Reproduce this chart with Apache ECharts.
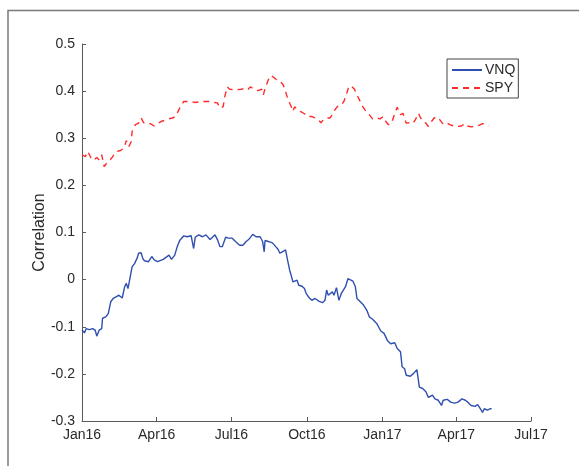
<!DOCTYPE html>
<html>
<head>
<meta charset="utf-8">
<script src="https://cdn.jsdelivr.net/npm/echarts@6/dist/echarts.min.js"></script>
<style>
html,body{margin:0;padding:0;background:#fff;}
#chart{width:579px;height:466px;}
</style>
</head>
<body>
<div id="chart"></div>
<script>
// Days since 2016-01-01 and correlation values
const vnqDays = [
  0,3,5,9,13,16,18,21,24,25,
  29,32,35,38,42,45,49,52,54,56,
  58,61,64,67,69,72,74,76,81,85,
  88,92,99,106,109,113,116,119,124,128,
  133,136,138,142,147,151,156,159,162,165,
  168,171,175,178,183,187,192,196,200,203,
  208,212,217,220,222,223,227,229,232,236,
  239,241,244,246,248,250,253,255,257,262,
  264,268,271,273,277,280,284,289,293,296,
  298,300,305,307,310,313,316,321,324,330,
  333,335,339,343,347,350,354,359,364,368,
  372,376,381,384,388,390,393,395,400,404,
  408,411,415,419,422,427,430,434,438,440,
  445,449,454,458,463,467,470,474,479,482,
  486,488,490,494,497,499
];
const vnqValues = [
  -0.107,-0.113,-0.104,-0.106,-0.104,-0.107,-0.120,-0.107,-0.104,-0.082,
  -0.079,-0.072,-0.047,-0.040,-0.036,-0.033,-0.039,-0.015,-0.008,-0.019,
  -0.001,0.027,0.034,0.045,0.056,0.057,0.045,0.040,0.038,0.049,
  0.042,0.038,0.043,0.052,0.043,0.052,0.070,0.083,0.093,0.091,
  0.093,0.066,0.090,0.095,0.091,0.095,0.085,0.090,0.095,0.085,
  0.070,0.070,0.090,0.088,0.088,0.081,0.073,0.073,0.081,0.085,
  0.096,0.091,0.091,0.081,0.059,0.083,0.081,0.085,0.078,0.070,
  0.064,0.056,0.059,0.056,0.063,0.045,0.020,0.008,-0.005,-0.001,
  -0.012,-0.014,-0.019,-0.029,-0.039,-0.044,-0.040,-0.046,-0.049,-0.044,
  -0.022,-0.033,-0.026,-0.033,-0.017,-0.044,-0.029,-0.015,0.002,-0.003,
  -0.015,-0.040,-0.047,-0.054,-0.065,-0.079,-0.084,-0.093,-0.109,-0.114,
  -0.129,-0.136,-0.134,-0.146,-0.153,-0.185,-0.189,-0.203,-0.205,-0.199,
  -0.191,-0.228,-0.231,-0.238,-0.250,-0.245,-0.253,-0.256,-0.267,-0.256,
  -0.254,-0.260,-0.262,-0.260,-0.253,-0.256,-0.260,-0.267,-0.269,-0.265,
  -0.276,-0.282,-0.274,-0.277,-0.274,-0.274
];
const spyDays = [
  0,4,7,11,14,18,21,24,27,30,
  33,37,40,43,47,51,54,57,60,61,
  65,69,72,75,79,83,88,92,97,101,
  106,110,114,117,120,124,128,133,137,142,
  146,151,156,160,165,168,172,174,177,180,
  185,189,194,198,202,205,210,214,219,221,
  223,227,230,233,237,241,245,248,251,255,
  257,259,262,266,271,275,280,284,288,291,
  294,298,302,305,308,311,316,319,322,325,
  328,332,335,339,342,346,350,354,359,363,
  367,370,373,377,379,382,384,386,388,391,
  393,395,399,403,406,410,412,415,419,422,
  426,429,433,436,439,442,445,448,453,457,
  462,467,470,474,479,483,488,492,495
];
const spyValues = [
  0.265,0.261,0.272,0.258,0.253,0.259,0.254,0.265,0.240,0.247,
  0.251,0.260,0.268,0.272,0.274,0.279,0.295,0.282,0.293,0.314,
  0.329,0.332,0.343,0.333,0.333,0.331,0.326,0.331,0.336,0.338,
  0.341,0.343,0.346,0.357,0.367,0.378,0.378,0.378,0.376,0.377,
  0.378,0.378,0.378,0.376,0.375,0.364,0.367,0.389,0.409,0.404,
  0.403,0.403,0.404,0.406,0.403,0.409,0.404,0.401,0.404,0.392,
  0.406,0.424,0.433,0.430,0.424,0.421,0.414,0.399,0.382,0.367,
  0.357,0.367,0.362,0.357,0.352,0.346,0.346,0.343,0.339,0.333,
  0.339,0.343,0.343,0.350,0.360,0.367,0.371,0.378,0.392,0.410,
  0.411,0.404,0.392,0.378,0.367,0.357,0.350,0.341,0.343,0.341,
  0.346,0.336,0.329,0.332,0.336,0.357,0.366,0.357,0.350,0.353,
  0.350,0.332,0.333,0.331,0.339,0.353,0.345,0.336,0.332,0.325,
  0.336,0.343,0.345,0.339,0.332,0.329,0.332,0.329,0.326,0.325,
  0.326,0.331,0.326,0.324,0.326,0.327,0.331,0.330,0.326
];
const xTickDates = ['2016-01-01','2016-04-01','2016-07-01','2016-10-01','2017-01-01','2017-04-01','2017-07-01'];
const xTickLabels = ['Jan16','Apr16','Jul16','Oct16','Jan17','Apr17','Jul17'];
const seriesNames = ['VNQ','SPY'];

const DAY = 86400000;
function ts(s){ const p = s.split('-').map(Number); return Date.UTC(p[0], p[1]-1, p[2]); }
const t0 = ts(xTickDates[0]);
const tickTs = xTickDates.map(ts);
const toData = (days, vals) => days.map((d, i) => [t0 + d * DAY, vals[i]]);

const chart = echarts.init(document.getElementById('chart'), null, {renderer: 'canvas'});
const axisColor = '#5a5a5a';
const labelColor = '#2a2a2a';
chart.setOption({
  animation: false,
  backgroundColor: '#fff',
  textStyle: {fontFamily: 'Liberation Sans, Arial, sans-serif'},
  graphic: [{
    type: 'rect', silent: true, z: -1,
    shape: {x: 8, y: 10.5, width: 620, height: 520},
    style: {fill: 'none', stroke: '#7a7a7a', lineWidth: 1.5}
  }],
  grid: {left: 82, top: 44, right: 48, bottom: 45, containLabel: false},
  legend: {
    orient: 'vertical',
    left: 447, top: 59,
    padding: [4, 3, 3, 4],
    itemGap: 4,
    itemWidth: 30, itemHeight: 10,
    borderColor: '#444', borderWidth: 1,
    backgroundColor: '#fff',
    itemStyle: {opacity: 0},
    textStyle: {fontSize: 14, color: labelColor, padding: [0, 0, 0, -2]},
    data: seriesNames.map(n => ({name: n}))
  },
  xAxis: {
    type: 'value',
    min: tickTs[0], max: tickTs[tickTs.length - 1],
    axisLine: {show: true, onZero: false, lineStyle: {color: axisColor, width: 1}},
    axisTick: {show: true, inside: true, length: 4, lineStyle: {color: axisColor}, customValues: tickTs},
    axisLabel: {
      show: true, color: labelColor, fontSize: 14, margin: 7,
      customValues: tickTs,
      formatter: v => { const i = tickTs.indexOf(+v); return i >= 0 ? xTickLabels[i] : ''; }
    },
    splitLine: {show: false}
  },
  yAxis: {
    type: 'value',
    min: -0.3, max: 0.5, interval: 0.1,
    name: 'Correlation', nameLocation: 'middle', nameGap: 34, nameRotate: 90,
    nameMoveOverlap: false,
    nameTextStyle: {fontSize: 16, color: labelColor},
    axisLine: {show: true, onZero: false, lineStyle: {color: axisColor, width: 1}},
    axisTick: {show: true, inside: true, length: 4, lineStyle: {color: axisColor}},
    axisLabel: {
      color: labelColor, fontSize: 14, margin: 7,
      formatter: v => parseFloat((+v).toFixed(1)).toString()
    },
    splitLine: {show: false}
  },
  series: [
    {
      name: seriesNames[0], type: 'line', symbol: 'none', smooth: false,
      data: toData(vnqDays, vnqValues),
      lineStyle: {color: '#2f4fb0', width: 1.4},
      itemStyle: {color: '#2f4fb0'}
    },
    {
      name: seriesNames[1], type: 'line', symbol: 'none', smooth: false,
      data: toData(spyDays, spyValues),
      lineStyle: {color: '#ff2a2a', width: 1.4, type: [6, 5]},
      itemStyle: {color: '#ff2a2a'}
    }
  ]
});
</script>
</body>
</html>
